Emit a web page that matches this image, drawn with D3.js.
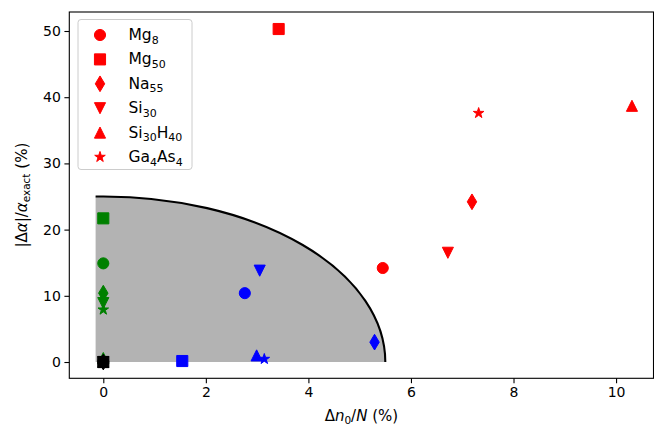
<!DOCTYPE html>
<html>
<head>
<meta charset="utf-8">
<script src="https://cdn.jsdelivr.net/npm/d3@7"></script>
<style>
  body { margin: 0; background: #fff; }
  text { font-family: "DejaVu Sans", sans-serif; }
</style>
</head>
<body>
<script>
const width = 654;
const height = 427;
const margin = { top: 12, right: 0.5, bottom: 48.7, left: 69.3 };

// systems, in legend order
const labels = [['Mg', '8'], ['Mg', '50'], ['Na', '55'], ['Si', '30'], ['Si', '30', 'H', '40'], ['Ga', '4', 'As', '4']];
const shapes = ['circle', 'square', 'thin_diamond', 'triangle_down', 'triangle_up', 'star'];

// red: outside the region
const redX = [5.45, 3.42, 7.19, 6.72, 10.31, 7.32];
const redY = [14.2, 50.3, 24.2, 16.5, 38.7, 37.6];
// blue
const blueX = [2.76, 1.54, 5.29, 3.05, 2.99, 3.14];
const blueY = [10.4, 0.15, 3.0, 13.8, 1.0, 0.45];
// green, all at zero density error
const greenX = [0, 0, 0, 0, 0, 0];
const greenY = [14.9, 21.7, 10.4, 8.9, 0.6, 7.9];
// black, at the origin
const blackX = [0, 0, 0, 0, 0, 0];
const blackY = [0, 0, 0, 0, 0, 0];

// shaded quarter ellipse
const ellipseA = 5.5;
const ellipseB = 25;
const shadeStart = -0.15;

const xTicks = [0, 2, 4, 6, 8, 10];
const yTicks = [0, 10, 20, 30, 40, 50];

const x = d3.scaleLinear()
  .domain([-0.663, 10.73])
  .range([margin.left, width - margin.right]);

const y = d3.scaleLinear()
  .domain([-2.46, 52.87])
  .range([height - margin.bottom, margin.top]);

const ms = 11.1; // marker size in px

function markerPath(shape) {
  const h = ms / 2;
  const p = d3.path();
  if (shape === 'circle') {
    p.arc(0, 0, h, 0, 2 * Math.PI);
  } else if (shape === 'square') {
    p.rect(-h, -h, ms, ms);
  } else if (shape === 'thin_diamond') {
    const dy = ms * Math.SQRT2 / 2, dx = dy * 0.6;
    p.moveTo(0, -dy); p.lineTo(dx, 0); p.lineTo(0, dy); p.lineTo(-dx, 0);
  } else if (shape === 'triangle_up') {
    p.moveTo(0, -h); p.lineTo(h, h); p.lineTo(-h, h);
  } else if (shape === 'triangle_down') {
    p.moveTo(0, h); p.lineTo(h, -h); p.lineTo(-h, -h);
  } else if (shape === 'star') {
    for (let i = 0; i < 10; i++) {
      const r = (i % 2 === 0 ? 1 : 0.381966) * h;
      const t = Math.PI / 5 * i + Math.PI / 2;
      const px = r * Math.cos(t), py = -r * Math.sin(t);
      if (i === 0) p.moveTo(px, py); else p.lineTo(px, py);
    }
  }
  p.closePath();
  return p.toString();
}

const svg = d3.select('body').append('svg')
  .attr('width', width)
  .attr('height', height);

// shaded region
const rx = x(ellipseA) - x(0);
const ry = y(0) - y(ellipseB);
svg.append('path')
  .attr('d', `M${x(shadeStart)},${y(0)} L${x(shadeStart)},${y(ellipseB)} L${x(0)},${y(ellipseB)} A${rx},${ry} 0 0 1 ${x(ellipseA)},${y(0)} Z`)
  .attr('fill', '#b3b3b3');

svg.append('path')
  .attr('d', `M${x(shadeStart)},${y(ellipseB)} L${x(0)},${y(ellipseB)} A${rx},${ry} 0 0 1 ${x(ellipseA)},${y(0)}`)
  .attr('fill', 'none')
  .attr('stroke', 'black')
  .attr('stroke-width', 2.1);

function drawSeries(xs, ys, color) {
  svg.append('g')
    .selectAll('path')
    .data(shapes)
    .join('path')
      .attr('transform', (d, i) => `translate(${x(xs[i])},${y(ys[i])})`)
      .attr('d', d => markerPath(d))
      .attr('fill', color)
      .attr('stroke', color)
      .attr('stroke-width', 1.0)
      .attr('stroke-linejoin', 'miter');
}

drawSeries(redX, redY, '#ff0000');
drawSeries(blueX, blueY, '#0000ff');
drawSeries(greenX, greenY, '#008000');
drawSeries(blackX, blackY, '#000000');

// axes
const xAxis = svg.append('g')
  .attr('transform', `translate(0, ${height - margin.bottom})`)
  .call(d3.axisBottom(x).tickValues(xTicks).tickFormat(d3.format('d')).tickSize(4.9).tickPadding(3.5));

const yAxis = svg.append('g')
  .attr('transform', `translate(${margin.left}, 0)`)
  .call(d3.axisLeft(y).tickValues(yTicks).tickFormat(d3.format('d')).tickSize(4.9).tickPadding(3.5));

[xAxis, yAxis].forEach(a => {
  a.select('.domain').remove();
  a.selectAll('.tick line').attr('stroke', 'black').attr('stroke-width', 1.1);
  a.selectAll('.tick text').attr('font-size', '14px').attr('fill', 'black')
    .attr('font-family', '"DejaVu Sans", sans-serif');
});

svg.append('rect')
  .attr('x', margin.left)
  .attr('y', margin.top)
  .attr('width', width - margin.right - margin.left)
  .attr('height', height - margin.bottom - margin.top)
  .attr('fill', 'none')
  .attr('stroke', 'black')
  .attr('stroke-width', 1.1);

// x-axis title
const xt = svg.append('text')
  .attr('x', (margin.left + width - margin.right) / 2)
  .attr('y', 421)
  .attr('text-anchor', 'middle')
  .attr('font-size', '15px');
xt.append('tspan').text('Δ');
xt.append('tspan').attr('font-style', 'italic').text('n');
xt.append('tspan').attr('font-size', '10.5px').attr('dy', 3).text('0');
xt.append('tspan').attr('dy', -3).text('/');
xt.append('tspan').attr('font-style', 'italic').text('N');
xt.append('tspan').text(' (%)');

// y-axis title
const yt = svg.append('text')
  .attr('transform', `translate(27, ${(margin.top + height - margin.bottom) / 2}) rotate(-90)`)
  .attr('text-anchor', 'middle')
  .attr('font-size', '15px');
yt.append('tspan').text('|Δ');
yt.append('tspan').attr('font-style', 'italic').text('α');
yt.append('tspan').text('|/');
yt.append('tspan').attr('font-style', 'italic').text('α');
yt.append('tspan').attr('font-size', '10.5px').attr('dy', 3).text('exact');
yt.append('tspan').attr('dy', -3).text(' (%)');

// legend
const legend = svg.append('g').attr('transform', 'translate(78, 19.5)');
legend.append('rect')
  .attr('width', 114)
  .attr('height', 150)
  .attr('rx', 3)
  .attr('fill', 'white')
  .attr('fill-opacity', 0.8)
  .attr('stroke', '#cccccc');

const rows = legend.selectAll('g.row')
  .data(shapes)
  .join('g')
    .attr('class', 'row')
    .attr('transform', (d, i) => `translate(0, ${15.5 + i * 24.4})`);

rows.append('path')
  .attr('transform', 'translate(22, 0)')
  .attr('d', d => markerPath(d))
  .attr('fill', '#ff0000')
  .attr('stroke', '#ff0000')
  .attr('stroke-width', 1.0);

rows.each(function(d, i) {
  const t = d3.select(this).append('text')
    .attr('x', 50.5)
    .attr('y', 5)
    .attr('font-size', '15.5px');
  const parts = labels[i];
  for (let k = 0; k < parts.length; k += 2) {
    t.append('tspan').attr('dy', k === 0 ? 0 : -3.5).text(parts[k]);
    t.append('tspan').attr('font-size', '11px').attr('dy', 3.5).text(parts[k + 1]);
  }
});
</script>
</body>
</html>
